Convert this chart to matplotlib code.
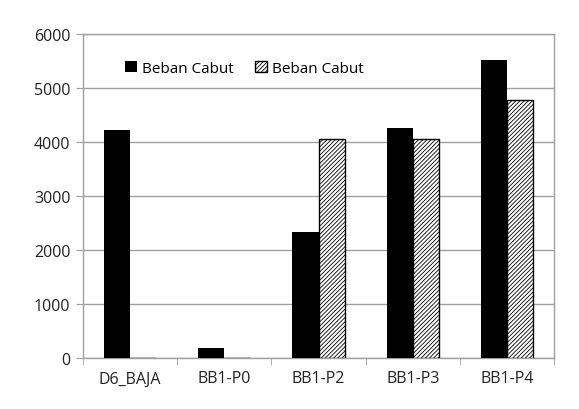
import matplotlib.pyplot as plt
import numpy as np

categories = ['D6_BAJA', 'BB1-P0', 'BB1-P2', 'BB1-P3', 'BB1-P4']
series_1 = [4230, 185, 2330, 4260, 5510]
series_2 = [0, 0, 4060, 4060, 4770]
series_names = ['Beban Cabut', 'Beban Cabut']
y_ticks = [0, 1000, 2000, 3000, 4000, 5000, 6000]

plt.rcParams['font.family'] = ['Open Sans', 'DejaVu Sans']
plt.rcParams['hatch.linewidth'] = 0.6

fig = plt.figure(figsize=(5.79, 4.10), dpi=100)
ax = fig.add_axes([0.1434, 0.1244, 0.8136, 0.7902])

x = np.arange(len(categories))
w = 0.277
ax.bar(x - w / 2, series_1, w, color='black', label=series_names[0], zorder=3)
ax.bar(x + w / 2, series_2, w, facecolor='white', edgecolor='black', hatch='////////',
       linewidth=1.0, label=series_names[1], zorder=3)

ax.set_xlim(-0.5, len(categories) - 0.5)
ax.set_ylim(0, 6000)
ax.set_yticks(y_ticks)
ax.yaxis.grid(True, color='#a0a0a0', linewidth=1.0, zorder=0)
ax.set_axisbelow(True)

for s in ax.spines.values():
    s.set_color('#a0a0a0')
    s.set_linewidth(1.0)

ax.set_xticks(x)
ax.set_xticklabels(categories)
ax.set_xticks(np.arange(len(categories) + 1) - 0.5, minor=True)
ax.tick_params(axis='x', which='major', length=0, pad=9, labelsize=11.5, colors='#222222')
ax.tick_params(axis='x', which='minor', length=5, color='#a0a0a0', direction='out')
ax.tick_params(axis='y', length=5, color='#a0a0a0', labelsize=11.5, labelcolor='#222222', pad=4)

ax.legend(loc='upper left', bbox_to_anchor=(0.06, 0.96), ncol=2, frameon=False,
          fontsize=11, handlelength=0.8, handleheight=0.8, handletextpad=0.3,
          columnspacing=1.4)

fig.savefig('out.png', dpi=100)
